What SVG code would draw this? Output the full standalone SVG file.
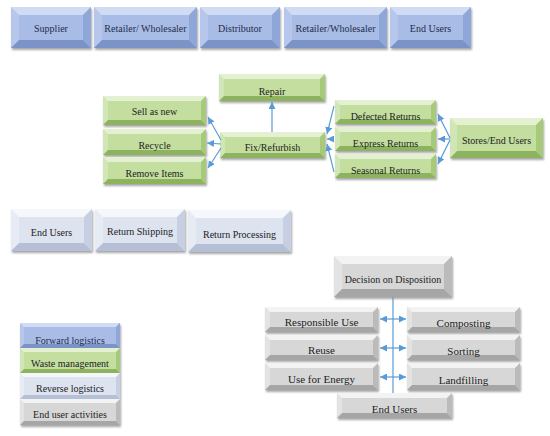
<svg xmlns="http://www.w3.org/2000/svg" width="550" height="436" viewBox="0 0 550 436">
<defs>
<filter id="sh" x="-10%" y="-20%" width="130%" height="150%">
<feDropShadow dx="1" dy="2" stdDeviation="1.2" flood-color="#000" flood-opacity="0.35"/>
</filter>
<marker id="ah" viewBox="0 0 10 10" refX="10" refY="5" markerWidth="7" markerHeight="7" markerUnits="userSpaceOnUse" orient="auto-start-reverse">
<path d="M0,0 L10,5 L0,10 z" fill="#5b9bd5"/>
</marker>
</defs>
<style>
.o{filter:url(#sh)}
.blue .o{fill:#b6c7eb}.blue .t{fill:#d0dcf4}.blue .r{fill:#8ea6d8}.blue .b{fill:#7b93c6}.blue .c{fill:#a8bce6}
.green .o{fill:#d0e6b6}.green .t{fill:#e3f0d2}.green .r{fill:#a6ca7a}.green .b{fill:#8db35e}.green .c{fill:#c3de9f}
.lb .o{fill:#e7ebf4}.lb .t{fill:#f5f7fb}.lb .r{fill:#c7cfe2}.lb .b{fill:#b5bfd6}.lb .c{fill:#dde3ef}
.gray .o{fill:#e3e3e3}.gray .t{fill:#f3f3f3}.gray .r{fill:#bbbbbb}.gray .b{fill:#a6a6a6}.gray .c{fill:#d7d7d7}
text{font-family:"Liberation Serif",serif;font-size:10px;fill:#222;text-anchor:middle}
.blue text{fill:#1f2d4d}
.big{font-size:11px}
.cn line{stroke:#5b9bd5;stroke-width:1.2;fill:none}
.cn .a{marker-end:url(#ah)}
.cn .d{marker-start:url(#ah);marker-end:url(#ah)}
</style>

<!-- Forward logistics row -->
<g id="supplier" class="blue">
<rect class="o" x="11" y="7" width="80" height="41"/>
<polygon class="t" points="11,7 91,7 83,15 19,15"/>
<polygon class="r" points="91,7 91,48 83,40 83,15"/>
<polygon class="b" points="11,48 19,40 83,40 91,48"/>
<rect class="c" x="19" y="15" width="64" height="25"/>
<text x="51" y="32">Supplier</text>
</g>
<g id="retailer1" class="blue">
<rect class="o" x="94" y="7" width="103" height="41"/>
<polygon class="t" points="94,7 197,7 189,15 102,15"/>
<polygon class="r" points="197,7 197,48 189,40 189,15"/>
<polygon class="b" points="94,48 102,40 189,40 197,48"/>
<rect class="c" x="102" y="15" width="87" height="25"/>
<text x="145.5" y="32">Retailer/ Wholesaler</text>
</g>
<g id="distributor" class="blue">
<rect class="o" x="200" y="7" width="80" height="41"/>
<polygon class="t" points="200,7 280,7 272,15 208,15"/>
<polygon class="r" points="280,7 280,48 272,40 272,15"/>
<polygon class="b" points="200,48 208,40 272,40 280,48"/>
<rect class="c" x="208" y="15" width="64" height="25"/>
<text x="240" y="32">Distributor</text>
</g>
<g id="retailer2" class="blue">
<rect class="o" x="284" y="7" width="103" height="41"/>
<polygon class="t" points="284,7 387,7 379,15 292,15"/>
<polygon class="r" points="387,7 387,48 379,40 379,15"/>
<polygon class="b" points="284,48 292,40 379,40 387,48"/>
<rect class="c" x="292" y="15" width="87" height="25"/>
<text x="335.5" y="32">Retailer/Wholesaler</text>
</g>
<g id="endusers1" class="blue">
<rect class="o" x="390" y="7" width="81" height="41"/>
<polygon class="t" points="390,7 471,7 463,15 398,15"/>
<polygon class="r" points="471,7 471,48 463,40 463,15"/>
<polygon class="b" points="390,48 398,40 463,40 471,48"/>
<rect class="c" x="398" y="15" width="65" height="25"/>
<text x="430.5" y="32">End Users</text>
</g>

<!-- Waste management -->
<g id="repair" class="green">
<rect class="o" x="219" y="74" width="106" height="27"/>
<polygon class="t" points="219,74 325,74 320,79 224,79"/>
<polygon class="r" points="325,74 325,101 320,96 320,79"/>
<polygon class="b" points="219,101 224,96 320,96 325,101"/>
<rect class="c" x="224" y="79" width="96" height="17"/>
<text x="272" y="95">Repair</text>
</g>
<g id="sellasnew" class="green">
<rect class="o" x="103" y="96" width="103" height="29"/>
<polygon class="t" points="103,96 206,96 201,101 108,101"/>
<polygon class="r" points="206,96 206,125 201,120 201,101"/>
<polygon class="b" points="103,125 108,120 201,120 206,125"/>
<rect class="c" x="108" y="101" width="93" height="19"/>
<text x="154.5" y="115">Sell as new</text>
</g>
<g id="recycle" class="green">
<rect class="o" x="103" y="129" width="103" height="26"/>
<polygon class="t" points="103,129 206,129 201,134 108,134"/>
<polygon class="r" points="206,129 206,155 201,150 201,134"/>
<polygon class="b" points="103,155 108,150 201,150 206,155"/>
<rect class="c" x="108" y="134" width="93" height="16"/>
<text x="154.5" y="148.5">Recycle</text>
</g>
<g id="removeitems" class="green">
<rect class="o" x="103" y="157" width="103" height="27"/>
<polygon class="t" points="103,157 206,157 201,162 108,162"/>
<polygon class="r" points="206,157 206,184 201,179 201,162"/>
<polygon class="b" points="103,184 108,179 201,179 206,184"/>
<rect class="c" x="108" y="162" width="93" height="17"/>
<text x="154.5" y="177">Remove Items</text>
</g>
<g id="fixrefurbish" class="green">
<rect class="o" x="220" y="132" width="105" height="26"/>
<polygon class="t" points="220,132 325,132 320,137 225,137"/>
<polygon class="r" points="325,132 325,158 320,153 320,137"/>
<polygon class="b" points="220,158 225,153 320,153 325,158"/>
<rect class="c" x="225" y="137" width="95" height="16"/>
<text x="272.5" y="151">Fix/Refurbish</text>
</g>
<g id="defected" class="green">
<rect class="o" x="335" y="100" width="101" height="24"/>
<polygon class="t" points="335,100 436,100 431,105 340,105"/>
<polygon class="r" points="436,100 436,124 431,119 431,105"/>
<polygon class="b" points="335,124 340,119 431,119 436,124"/>
<rect class="c" x="340" y="105" width="91" height="14"/>
<text x="385.5" y="120">Defected Returns</text>
</g>
<g id="express" class="green">
<rect class="o" x="335" y="127" width="101" height="24"/>
<polygon class="t" points="335,127 436,127 431,132 340,132"/>
<polygon class="r" points="436,127 436,151 431,146 431,132"/>
<polygon class="b" points="335,151 340,146 431,146 436,151"/>
<rect class="c" x="340" y="132" width="91" height="14"/>
<text x="385.5" y="147">Express Returns</text>
</g>
<g id="seasonal" class="green">
<rect class="o" x="335" y="154" width="101" height="24"/>
<polygon class="t" points="335,154 436,154 431,159 340,159"/>
<polygon class="r" points="436,154 436,178 431,173 431,159"/>
<polygon class="b" points="335,178 340,173 431,173 436,178"/>
<rect class="c" x="340" y="159" width="91" height="14"/>
<text x="385.5" y="174">Seasonal Returns</text>
</g>
<g id="stores" class="green">
<rect class="o" x="450" y="118" width="93" height="40"/>
<polygon class="t" points="450,118 543,118 536,125 457,125"/>
<polygon class="r" points="543,118 543,158 536,151 536,125"/>
<polygon class="b" points="450,158 457,151 536,151 543,158"/>
<rect class="c" x="457" y="125" width="79" height="26"/>
<text x="496.5" y="143.5">Stores/End Users</text>
</g>

<!-- Reverse logistics -->
<g id="endusers2" class="lb">
<rect class="o" x="11" y="209" width="81" height="42"/>
<polygon class="t" points="11,209 92,209 84,217 19,217"/>
<polygon class="r" points="92,209 92,251 84,243 84,217"/>
<polygon class="b" points="11,251 19,243 84,243 92,251"/>
<rect class="c" x="19" y="217" width="65" height="26"/>
<text x="51.5" y="236">End Users</text>
</g>
<g id="returnshipping" class="lb">
<rect class="o" x="95" y="209" width="90" height="42"/>
<polygon class="t" points="95,209 185,209 177,217 103,217"/>
<polygon class="r" points="185,209 185,251 177,243 177,217"/>
<polygon class="b" points="95,251 103,243 177,243 185,251"/>
<rect class="c" x="103" y="217" width="74" height="26"/>
<text x="140" y="235">Return Shipping</text>
</g>
<g id="returnprocessing" class="lb">
<rect class="o" x="188" y="210" width="103" height="42"/>
<polygon class="t" points="188,210 291,210 283,218 196,218"/>
<polygon class="r" points="291,210 291,252 283,244 283,218"/>
<polygon class="b" points="188,252 196,244 283,244 291,252"/>
<rect class="c" x="196" y="218" width="87" height="26"/>
<text x="239.5" y="237.5">Return Processing</text>
</g>

<!-- End user activities -->
<g id="decision" class="gray">
<rect class="o" x="334" y="256" width="118" height="41"/>
<polygon class="t" points="334,256 452,256 444,264 342,264"/>
<polygon class="r" points="452,256 452,297 444,289 444,264"/>
<polygon class="b" points="334,297 342,289 444,289 452,297"/>
<rect class="c" x="342" y="264" width="102" height="25"/>
<text x="393" y="283">Decision on Disposition</text>
</g>
<g id="responsibleuse" class="gray">
<rect class="o" x="265" y="307" width="113" height="25"/>
<polygon class="t" points="265,307 378,307 373,312 270,312"/>
<polygon class="r" points="378,307 378,332 373,327 373,312"/>
<polygon class="b" points="265,332 270,327 373,327 378,332"/>
<rect class="c" x="270" y="312" width="103" height="15"/>
<text class="big" x="321.5" y="326">Responsible Use</text>
</g>
<g id="reuse" class="gray">
<rect class="o" x="265" y="335" width="113" height="25"/>
<polygon class="t" points="265,335 378,335 373,340 270,340"/>
<polygon class="r" points="378,335 378,360 373,355 373,340"/>
<polygon class="b" points="265,360 270,355 373,355 378,360"/>
<rect class="c" x="270" y="340" width="103" height="15"/>
<text class="big" x="321.5" y="354">Reuse</text>
</g>
<g id="useforenergy" class="gray">
<rect class="o" x="265" y="363" width="113" height="27"/>
<polygon class="t" points="265,363 378,363 373,368 270,368"/>
<polygon class="r" points="378,363 378,390 373,385 373,368"/>
<polygon class="b" points="265,390 270,385 373,385 378,390"/>
<rect class="c" x="270" y="368" width="103" height="17"/>
<text class="big" x="321.5" y="383">Use for Energy</text>
</g>
<g id="composting" class="gray">
<rect class="o" x="407" y="307" width="113" height="25"/>
<polygon class="t" points="407,307 520,307 515,312 412,312"/>
<polygon class="r" points="520,307 520,332 515,327 515,312"/>
<polygon class="b" points="407,332 412,327 515,327 520,332"/>
<rect class="c" x="412" y="312" width="103" height="15"/>
<text class="big" x="463.5" y="327">Composting</text>
</g>
<g id="sorting" class="gray">
<rect class="o" x="407" y="335" width="113" height="25"/>
<polygon class="t" points="407,335 520,335 515,340 412,340"/>
<polygon class="r" points="520,335 520,360 515,355 515,340"/>
<polygon class="b" points="407,360 412,355 515,355 520,360"/>
<rect class="c" x="412" y="340" width="103" height="15"/>
<text class="big" x="463.5" y="355">Sorting</text>
</g>
<g id="landfilling" class="gray">
<rect class="o" x="407" y="363" width="113" height="27"/>
<polygon class="t" points="407,363 520,363 515,368 412,368"/>
<polygon class="r" points="520,363 520,390 515,385 515,368"/>
<polygon class="b" points="407,390 412,385 515,385 520,390"/>
<rect class="c" x="412" y="368" width="103" height="17"/>
<text class="big" x="463.5" y="383.5">Landfilling</text>
</g>
<g id="endusers3" class="gray">
<rect class="o" x="337" y="393" width="115" height="25"/>
<polygon class="t" points="337,393 452,393 447,398 342,398"/>
<polygon class="r" points="452,393 452,418 447,413 447,398"/>
<polygon class="b" points="337,418 342,413 447,413 452,418"/>
<rect class="c" x="342" y="398" width="105" height="15"/>
<text class="big" x="394.5" y="413">End Users</text>
</g>

<!-- Legend -->
<g id="legend">
<g id="legend-forward" class="blue">
<rect class="o" x="20" y="323" width="100" height="25"/>
<polygon class="t" points="20,323 120,323 116,327 24,327"/>
<polygon class="r" points="120,323 120,348 116,344 116,327"/>
<polygon class="b" points="20,348 24,344 116,344 120,348"/>
<rect class="c" x="24" y="327" width="92" height="17"/>
<text x="70" y="344">Forward logistics</text>
</g>
<g id="legend-waste" class="green">
<rect class="o" x="20" y="348" width="100" height="25"/>
<polygon class="t" points="20,348 120,348 116,352 24,352"/>
<polygon class="r" points="120,348 120,373 116,369 116,352"/>
<polygon class="b" points="20,373 24,369 116,369 120,373"/>
<rect class="c" x="24" y="352" width="92" height="17"/>
<text x="70" y="367">Waste management</text>
</g>
<g id="legend-reverse" class="lb">
<rect class="o" x="20" y="373" width="100" height="26"/>
<polygon class="t" points="20,373 120,373 116,377 24,377"/>
<polygon class="r" points="120,373 120,399 116,395 116,377"/>
<polygon class="b" points="20,399 24,395 116,395 120,399"/>
<rect class="c" x="24" y="377" width="92" height="18"/>
<text x="70" y="392">Reverse logistics</text>
</g>
<g id="legend-enduser" class="gray">
<rect class="o" x="20" y="399" width="100" height="26"/>
<polygon class="t" points="20,399 120,399 116,403 24,403"/>
<polygon class="r" points="120,399 120,425 116,421 116,403"/>
<polygon class="b" points="20,425 24,421 116,421 120,425"/>
<rect class="c" x="24" y="403" width="92" height="18"/>
<text x="70" y="418">End user activities</text>
</g>
</g>

<!-- Connectors -->
<g id="connectors" class="cn">
<line class="a" x1="221" y1="140" x2="208" y2="117"/>
<line class="a" x1="221" y1="144" x2="207" y2="143"/>
<line class="a" x1="221" y1="148" x2="208" y2="168"/>
<line class="a" x1="272" y1="132" x2="272" y2="102"/>
<line class="a" x1="334" y1="106" x2="327" y2="134"/>
<line class="a" x1="334" y1="139" x2="327" y2="139"/>
<line class="a" x1="334" y1="172" x2="327" y2="144"/>
<line class="a" x1="450" y1="138" x2="438" y2="114"/>
<line class="a" x1="450" y1="139" x2="438" y2="139"/>
<line class="a" x1="450" y1="140" x2="438" y2="164"/>
<line x1="393" y1="297" x2="393" y2="393"/>
<line class="d" x1="380" y1="319" x2="406" y2="319"/>
<line class="d" x1="380" y1="348" x2="406" y2="348"/>
<line class="d" x1="380" y1="377" x2="406" y2="377"/>
</g>
</svg>
